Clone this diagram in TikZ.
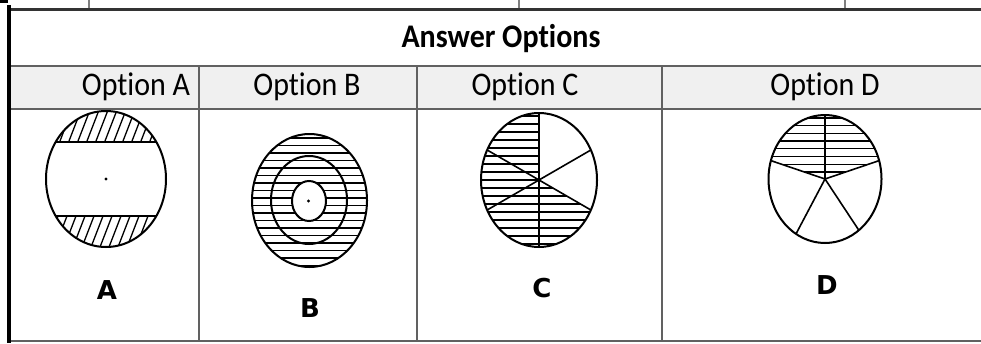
\documentclass[tikz,border=0pt]{standalone}
\usepackage{fontspec}
\setmainfont{Carlito}[Ligatures=CommonOff]
\newfontfamily\tagfont{DejaVu Sans}
\usetikzlibrary{calc}

\begin{document}
\begin{tikzpicture}[x=1pt,y=-1pt,
    rule/.style={draw=black!62,line width=1.5pt},
    outline/.style={draw=black,line width=2pt},
    spoke/.style={draw=black,line width=1.6pt},
    hatch/.style={draw=black,line width=1.3pt},
    head/.style={font=\fontsize{30}{32}\selectfont\bfseries,transform shape,yscale=1.1},
    opt/.style={font=\fontsize{30}{32}\selectfont,transform shape,yscale=1.1},
    tag/.style={font=\tagfont\bfseries\fontsize{26}{28}\selectfont}
  ]
  \useasboundingbox (0,0) rectangle (981,343);
  % table frame
  \fill[black!6] (11,66) rectangle (981,109);
  \fill[black] (0,0) rectangle (8,3);
  \fill[black] (7,5) rectangle (11,343);
  \foreach \x in {89,519,845} \draw[rule,draw=black!50] (\x,0) -- (\x,9);
  \draw[draw=black!80,line width=2.5pt] (11,9.5) -- (981,9.5);
  \foreach \y in {66,109} \draw[rule] (11,\y) -- (981,\y);
  \draw[rule,line width=2pt] (11,341) -- (981,341);
  \foreach \x in {199,417,662} \draw[rule] (\x,66) -- (\x,341);
  \node[head] (title) at (501,39) {Answer Options};
  \node[opt] (optA) at (136,87) {Option A};
  \node[opt] (optB) at (307,87) {Option B};
  \node[opt] (optC) at (525,87) {Option C};
  \node[opt] (optD) at (825,87) {Option D};
  % figure A
  \coordinate (cA) at (106,179);
  \begin{scope}
    \clip (cA) ellipse [x radius=60,y radius=68];
    \begin{scope}
      \clip (0,100) rectangle (200,142) (0,216) rectangle (200,260);
      \foreach \x in {-40,-31,...,175} \draw[hatch] (\x,260) -- ++(58,-150);
    \end{scope}
    \draw[spoke] (0,142) -- (200,142) (0,216) -- (200,216);
  \end{scope}
  \draw[outline] (cA) ellipse [x radius=60,y radius=68];
  \fill (cA) circle (1.6);
  \node[tag] (tagA) at (107,290) {A};
  % figure B
  \coordinate (cB) at (309.5,200.5);
  \begin{scope}
    \clip (cB) ellipse [x radius=57.5,y radius=66.5];
    \foreach \y in {138,145.5,...,266} \draw[hatch,line width=1.6pt] (240,\y) -- (380,\y);
  \end{scope}
  \draw[outline] (cB) ellipse [x radius=57.5,y radius=66.5];
  \draw[outline] (309,200) ellipse [x radius=38,y radius=44];
  \filldraw[outline,fill=white] (309,201) ellipse [x radius=17,y radius=20];
  \fill (308.5,201) circle (1.6);
  \node[tag] (tagB) at (310,308) {B};
  % figure C
  \coordinate (cC) at (539,180);
  \begin{scope}
    \clip (cC) -- ($(cC)+(26.6:58 and 67)$) arc[start angle=26.6,end angle=270,x radius=58,y radius=67] -- cycle;
    \foreach \y in {116,124,...,248} \draw[hatch] (470,\y) -- (610,\y);
  \end{scope}
  \draw[outline] (cC) ellipse [x radius=58,y radius=67];
  \foreach \a in {90,26.6,-26.6} \draw[spoke] ($(cC)+(\a:58 and 67)$) -- ($(cC)+(\a+180:58 and 67)$);
  \node[tag] (tagC) at (542,288) {C};
  % figure D
  \coordinate (cD) at (825,179);
  \begin{scope}
    \clip (cD) -- ($(cD)+(-163.3:56.5 and 64)$) arc[start angle=-163.3,end angle=-16.7,x radius=56.5,y radius=64] -- cycle;
    \foreach \y in {118,125.7,...,180} \draw[hatch] (760,\y) -- (890,\y);
  \end{scope}
  \draw[outline] (cD) ellipse [x radius=56.5,y radius=64];
  \foreach \a in {-90,-163.3,-16.7,53.2,120.9} \draw[spoke] (cD) -- ($(cD)+(\a:56.5 and 64)$);
  \node[tag] (tagD) at (827,285) {D};
\end{tikzpicture}
\end{document}
